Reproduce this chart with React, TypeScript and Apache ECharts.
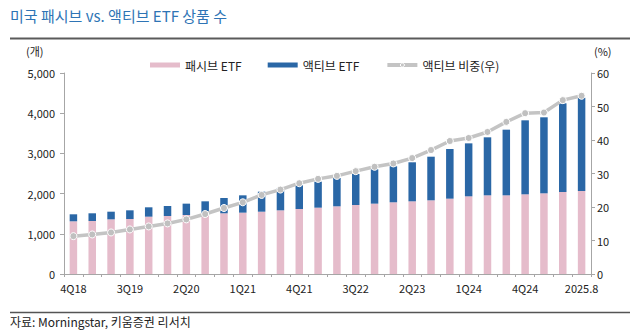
import React, { useEffect, useRef } from "react";
import * as echarts from "echarts";

const categories = [
  "4Q18", "1Q19", "2Q19", "3Q19", "4Q19", "1Q20", "2Q20", "3Q20", "4Q20",
  "1Q21", "2Q21", "3Q21", "4Q21", "1Q22", "2Q22", "3Q22", "4Q22",
  "1Q23", "2Q23", "3Q23", "4Q23", "1Q24", "2Q24", "3Q24", "4Q24",
  "1Q25", "2Q25", "2025.8",
];

const passive = [
  1311, 1318, 1360, 1368, 1426, 1443, 1468, 1485, 1510,
  1526, 1550, 1584, 1617, 1650, 1684, 1716, 1750,
  1784, 1808, 1833, 1874, 1932, 1957, 1957, 1982,
  2007, 2040, 2065,
];

const active = [
  174, 192, 190, 216, 233, 249, 282, 323, 381,
  431, 498, 547, 589, 647, 704, 772, 854,
  895, 971, 1085, 1235, 1318, 1443, 1633, 1841,
  1891, 2206, 2321,
];

const activeShare = [
  11.3, 11.8, 12.4, 13.3, 14.2, 15.1, 16.3, 17.9, 19.7,
  21.4, 23.6, 25.2, 27.1, 28.4, 29.3, 30.7, 32.0,
  33.0, 34.6, 37.0, 39.7, 40.6, 42.4, 45.4, 48.0,
  48.2, 51.9, 53.2,
];

const FONT = "'Noto Sans CJK KR', 'Noto Sans', sans-serif";

export default function App() {
  const ref = useRef<HTMLDivElement>(null);
  useEffect(() => {
    if (!ref.current) return;
    const chart = echarts.init(ref.current, undefined, { renderer: "svg" });
    const axisLine = { show: true, lineStyle: { color: "#a6a6a6", width: 1 } };
    chart.setOption({
      animation: false,
      textStyle: { fontFamily: FONT },
      grid: { left: 64, right: 49, top: 73, bottom: 62, containLabel: false },
      legend: {
        left: 145,
        top: 54,
        itemWidth: 30,
        itemHeight: 5,
        itemGap: 26,
        textStyle: { fontSize: 12, color: "#222", fontFamily: FONT },
        data: [
          { name: "패시브 ETF", icon: "rect" },
          { name: "액티브 ETF", icon: "rect" },
          {
            name: "액티브 비중(우)",
            lineStyle: { color: "#c4c4c4", width: 4 },
            itemStyle: { color: "#c4c4c4", borderColor: "#ffffff", borderWidth: 1 },
          },
        ],
      },
      xAxis: {
        type: "category",
        data: categories,
        axisLine,
        axisTick: { show: true, alignWithLabel: false, interval: 0, length: 3, lineStyle: { color: "#a6a6a6" } },
        axisLabel: { interval: 2, color: "#222", fontSize: 11, margin: 8, fontFamily: FONT },
      },
      yAxis: [
        {
          type: "value",
          min: 0,
          max: 5000,
          interval: 1000,
          axisLine,
          axisTick: { show: true, length: 4, lineStyle: { color: "#a6a6a6" } },
          splitLine: { show: false },
          axisLabel: {
            color: "#222",
            fontSize: 11,
            margin: 9,
            fontFamily: FONT,
            formatter: (v: number) => v.toLocaleString("en-US"),
          },
        },
        {
          type: "value",
          min: 0,
          max: 60,
          interval: 10,
          position: "right",
          axisLine,
          axisTick: { show: true, length: 4, lineStyle: { color: "#a6a6a6" } },
          splitLine: { show: false },
          axisLabel: { color: "#222", fontSize: 11, margin: 6, fontFamily: FONT },
        },
      ],
      series: [
        {
          name: "패시브 ETF",
          type: "bar",
          stack: "etf",
          data: passive,
          barWidth: 7.5,
          itemStyle: { color: "#e5bccb" },
        },
        {
          name: "액티브 ETF",
          type: "bar",
          stack: "etf",
          data: active,
          barWidth: 7.5,
          itemStyle: { color: "#2a67a6" },
        },
        {
          name: "액티브 비중(우)",
          type: "line",
          yAxisIndex: 1,
          data: activeShare,
          symbol: "circle",
          symbolSize: 7,
          lineStyle: { color: "#c4c4c4", width: 3.5 },
          itemStyle: { color: "#c0c0c0", borderColor: "#ffffff", borderWidth: 1 },
          z: 5,
        },
      ],
      graphic: [
        {
          type: "text",
          left: 10,
          top: 8,
          style: { text: "미국 패시브 vs. 액티브 ETF 상품 수", fill: "#2e74b5", fontSize: 15, fontFamily: FONT },
        },
        {
          type: "line",
          shape: { x1: 10, y1: 38.5, x2: 630, y2: 38.5 },
          style: { stroke: "#5a5a5a", lineWidth: 2 },
        },
        {
          type: "text",
          left: 26,
          top: 45,
          style: { text: "(개)", fill: "#222", fontSize: 11, fontFamily: FONT },
        },
        {
          type: "text",
          left: 594,
          top: 45,
          style: { text: "(%)", fill: "#222", fontSize: 11, fontFamily: FONT },
        },
        {
          type: "line",
          shape: { x1: 10, y1: 312.5, x2: 630, y2: 312.5 },
          style: { stroke: "#555", lineWidth: 1.5 },
        },
        {
          type: "text",
          left: 10,
          top: 315,
          style: { text: "자료: Morningstar, 키움증권 리서치", fill: "#222", fontSize: 12, fontFamily: FONT },
        },
      ],
    });
    return () => chart.dispose();
  }, []);
  return <div ref={ref} style={{ width: 640, height: 336, position: "absolute", left: 0, top: 0 }} />;
}
